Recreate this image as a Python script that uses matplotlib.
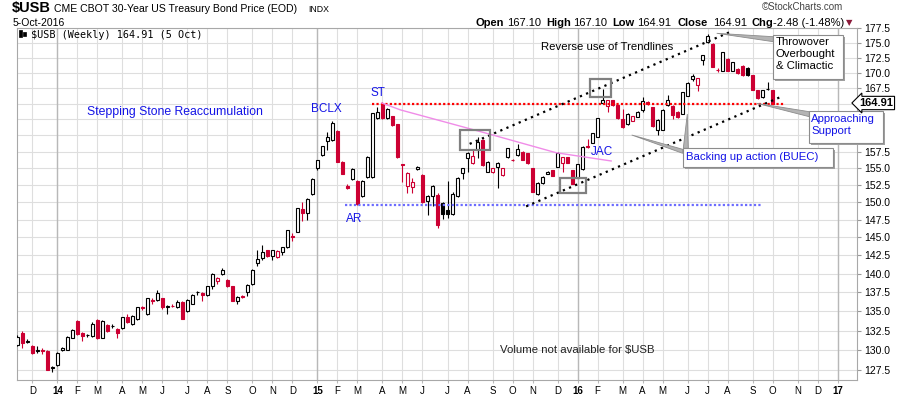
import numpy as np
import pandas as pd
import matplotlib
matplotlib.use('Agg')
import matplotlib.pyplot as plt
import matplotlib.dates as mdates
from matplotlib.patches import Rectangle, Polygon

plt.rcParams['font.family'] = ['Liberation Sans', 'DejaVu Sans']
plt.rcParams['text.parse_math'] = False

W, H = 900, 396
RED = '#cc0033'
BLUE = '#1414e6'

# weekly bars (Monday of each week), Nov 2013 .. 5 Oct 2016
dates = pd.date_range('2013-11-11', periods=152, freq='7D')

opens = [130.7, 132.2, 131.1, 130.6, 129.95, 130.0, 129.9, 127.85, 128.2, 130.05,
         130.1, 131.6, 133.8, 132.2, 131.9, 131.8, 133.9, 131.6, 133.2, 133.05,
         132.7, 132.8, 134.2, 133.4, 134.0, 135.5, 134.6, 136.45, 136.5, 136.7,
         135.6, 135.75, 135.5, 136.2, 135.0, 136.0, 137.5, 137.4, 137.1, 138.3,
         139.0, 139.9, 139.1, 138.3, 136.3, 136.95, 137.5, 138.6, 141.4, 142.2,
         143.2, 142.4, 142.3, 142.9, 143.6, 145.2, 145.8, 149.0, 148.5, 151.2,
         155.0, 157.0, 159.15, 159.25, 160.7, 156.0, 152.3, 153.45, 153.1, 150.85,
         153.75, 153.75, 162.7, 164.9, 162.7, 163.0, 161.7, 155.6, 152.4, 152.2,
         154.85, 154.05, 150.25, 150.85, 151.05, 149.9, 148.9, 148.3, 150.9, 154.3,
         156.5, 155.75, 157.75, 159.35, 154.5, 154.4, 155.15, 154.0, 156.65, 156.3,
         157.0, 157.5, 157.25, 155.0, 151.2, 152.8, 154.2, 154.76, 155.25, 155.75,
         156.65, 154.76, 153.6, 154.85, 158.4, 158.85, 159.75, 165.1, 164.6, 165.5,
         164.75, 162.5, 161.7, 162.3, 162.9, 164.0, 165.2, 164.4, 160.8, 160.9,
         164.8, 164.6, 163.7, 163.4, 166.25, 168.95, 167.95, 172.1, 175.1, 174.8,
         170.5, 170.35, 172.3, 170.3, 170.6, 171.1, 170.8, 169.6, 167.1, 166.0,
         167.3, 167.1]
highs = [131.9, 132.4, 131.4, 130.7, 130.5, 130.3, 130.0, 128.1, 129.8, 130.4,
         131.8, 132.7, 133.9, 132.3, 132.1, 133.6, 134.0, 133.9, 133.3, 133.4,
         132.8, 134.3, 134.6, 134.5, 135.6, 135.7, 136.8, 136.7, 137.8, 136.8,
         135.8, 135.9, 136.5, 136.3, 136.6, 137.3, 137.7, 137.5, 138.4, 140.1,
         139.5, 140.8, 139.3, 138.4, 137.0, 137.1, 138.6, 140.6, 143.2, 143.9,
         143.3, 143.3, 143.2, 143.7, 146.1, 145.6, 149.2, 150.0, 150.6, 153.5,
         156.3, 158.4, 160.5, 162.3, 160.8, 156.1, 152.6, 155.0, 153.2, 153.2,
         156.8, 163.5, 164.5, 165.3, 164.3, 163.1, 161.8, 155.7, 154.4, 153.6,
         155.4, 154.2, 151.0, 152.5, 151.3, 150.1, 153.1, 151.5, 153.7, 155.1,
         157.4, 157.7, 159.75, 159.4, 156.1, 155.1, 155.9, 155.1, 158.1, 156.4,
         158.75, 157.6, 157.3, 155.1, 152.9, 153.8, 154.6, 154.8, 157.4, 156.7,
         156.7, 154.8, 155.7, 158.3, 159.5, 160.4, 162.7, 167.4, 165.6, 165.6,
         164.8, 164.2, 163.5, 163.1, 163.8, 166.0, 165.4, 164.5, 162.5, 164.1,
         166.3, 164.7, 163.8, 166.9, 168.4, 169.8, 169.2, 173.0, 176.5, 174.9,
         170.7, 173.4, 172.4, 171.8, 170.7, 171.2, 170.9, 169.7, 167.2, 167.2,
         168.5, 167.1]
lows = [130.5, 130.3, 130.9, 129.5, 129.7, 129.6, 127.5, 127.3, 128.1, 129.9,
        130.0, 131.5, 131.9, 131.2, 131.7, 131.7, 131.4, 131.5, 132.3, 132.8,
        131.5, 132.7, 133.5, 133.2, 133.9, 135.2, 134.5, 135.9, 136.4, 135.3,
        134.7, 135.5, 135.4, 134.0, 134.9, 135.9, 137.1, 136.3, 137.0, 138.0,
        138.6, 139.8, 138.2, 136.3, 135.9, 136.7, 137.0, 138.5, 141.0, 141.8,
        142.3, 141.8, 142.2, 142.6, 143.5, 144.5, 145.7, 147.3, 147.4, 151.0,
        154.8, 156.9, 157.75, 159.2, 155.9, 154.1, 152.0, 153.3, 149.6, 150.7,
        153.6, 153.6, 162.5, 162.5, 162.6, 161.5, 156.6, 152.9, 151.4, 151.4,
        154.7, 149.9, 148.2, 149.5, 146.3, 147.6, 147.7, 148.2, 150.8, 153.35,
        154.5, 155.6, 156.5, 155.4, 154.4, 154.3, 152.1, 153.9, 156.5, 156.1,
        156.9, 156.2, 155.7, 151.5, 151.1, 152.7, 154.1, 153.8, 155.2, 154.5,
        155.8, 152.6, 153.5, 154.8, 158.1, 158.8, 159.7, 164.9, 163.7, 164.6,
        162.6, 161.2, 161.6, 162.2, 162.8, 163.7, 164.8, 161.3, 160.1, 160.8,
        164.6, 162.5, 162.7, 163.3, 166.2, 168.7, 167.0, 171.3, 175.0, 171.0,
        170.1, 170.3, 170.2, 170.2, 169.8, 169.5, 169.5, 167.2, 165.8, 165.9,
        167.1, 164.91]
closes = [131.7, 130.9, 131.2, 129.7, 130.0, 129.9, 127.5, 127.95, 129.7, 130.3,
          131.7, 132.6, 132.1, 131.8, 131.95, 133.4, 131.5, 133.8, 132.5, 133.1,
          132.2, 134.2, 133.6, 134.4, 135.5, 135.4, 136.75, 136.35, 137.4, 135.5,
          135.7, 135.65, 136.2, 134.0, 136.5, 137.2, 137.6, 137.1, 138.3, 140.0,
          139.4, 140.5, 138.3, 136.3, 136.9, 136.85, 138.5, 140.5, 142.05, 143.0,
          142.4, 143.2, 143.1, 143.6, 146.0, 145.1, 149.1, 148.4, 150.5, 153.4,
          156.25, 158.35, 159.75, 161.9, 156.0, 154.2, 152.15, 154.85, 149.8, 153.1,
          156.75, 163.45, 163.6, 162.7, 164.2, 161.6, 156.65, 155.45, 154.3, 152.9,
          155.25, 150.0, 150.85, 152.3, 146.8, 148.3, 148.35, 151.2, 153.6, 155.0,
          157.35, 156.9, 159.0, 155.5, 156.0, 155.0, 155.85, 155.0, 158.0, 156.2,
          157.85, 156.25, 155.75, 151.55, 152.8, 153.7, 154.5, 153.9, 157.35, 156.65,
          155.85, 152.65, 155.6, 158.25, 158.2, 160.35, 162.65, 165.6, 165.5, 164.75,
          162.65, 161.3, 163.4, 163.0, 163.7, 165.35, 165.0, 161.4, 162.4, 164.05,
          165.6, 163.2, 162.8, 166.85, 168.35, 169.4, 169.1, 172.85, 176.1, 171.0,
          170.4, 173.35, 170.3, 171.7, 169.9, 169.6, 169.65, 167.25, 165.9, 167.1,
          167.39, 164.91]

# drawn studies / annotations
resistance_level = 164.95
resistance_span = ['2015-03-22', '2016-10-20']
ar_level = 149.65
ar_span = ['2015-02-12', '2016-09-18']
upper_trend_dates = ['2015-08-06', '2016-08-06']
upper_trend_prices = [158.7, 176.9]
lower_trend_dates = ['2015-10-24', '2016-10-15']
lower_trend_prices = [149.4, 166.1]
pink_dates = ['2015-04-05', '2015-05-01', '2015-09-03', '2015-12-05', '2016-02-20']
pink_prices = [165.1, 164.0, 160.2, 157.35, 156.1]
box_starts = ['2015-07-24', '2015-12-11', '2016-01-21']
box_ends = ['2015-09-04', '2016-01-16', '2016-02-20']
box_lows = [157.7, 151.4, 166.0]
box_highs = [160.8, 153.5, 168.9]
hidden_ylabels = [160.0, 162.5, 165.0]   # covered by the price tag / callout


def px(x, y):
    return x / W, 1 - y / H


def d2n(d):
    return mdates.date2num(pd.Timestamp(d))


fig = plt.figure(figsize=(W / 100, H / 100), dpi=100)
ax = fig.add_axes([17 / W, 1 - 380 / H, 840 / W, 352 / H])
ax.set_yscale('log')

# candles
x = mdates.date2num(dates)
o, h, l, c = (np.array(v) for v in (opens, highs, lows, closes))
prev = np.r_[c[0], c[:-1]]
cols = np.where(c < prev, RED, 'black')
ax.vlines(x, l, h, colors=cols, lw=0.8, zorder=3)
bw = 4.6
for xi, oi, ci, col in zip(x, o, c, cols):
    lo, hi = min(oi, ci), max(oi, ci)
    ax.add_patch(Rectangle((xi - bw / 2, lo), bw, max(hi - lo, 0.02),
                           facecolor=col if ci < oi else 'white',
                           edgecolor=col, lw=0.8, zorder=4))

# study lines
ax.plot(pd.to_datetime(resistance_span), [resistance_level] * 2, color='#ff0000',
        ls=(0, (1, 1)), lw=1.6, zorder=5)
ax.plot(pd.to_datetime(ar_span), [ar_level] * 2, color='#6b6bff',
        ls=(0, (1, 1)), lw=1.6, zorder=5)
ax.plot(pd.to_datetime(upper_trend_dates), upper_trend_prices, color='black',
        ls=(0, (1, 2)), lw=1.6, zorder=5)
ax.plot(pd.to_datetime(lower_trend_dates), lower_trend_prices, color='black',
        ls=(0, (1, 2)), lw=1.6, zorder=5)
ax.plot(pd.to_datetime(pink_dates), pink_prices, color='#f08ce8', lw=1.0, zorder=5)
for d0, d1, p0, p1 in zip(box_starts, box_ends, box_lows, box_highs):
    ax.add_patch(Rectangle((d2n(d0), p0), d2n(d1) - d2n(d0), p1 - p0, fill=False,
                           ec='#808080', lw=1.6, zorder=6))

# axes
ax.set_xlim(d2n('2013-11-10 14:00'), d2n('2017-01-29'))
ax.set_ylim(126.33, 177.2)
yt = np.arange(127.5, 177.6, 2.5)
ax.set_yticks(yt)
ax.set_yticklabels(['' if any(abs(v - hv) < 0.01 for hv in hidden_ylabels) else f'{v:.1f}'
                    for v in yt])
ax.yaxis.set_minor_locator(matplotlib.ticker.NullLocator())
ax.yaxis.tick_right()

month_starts = pd.date_range('2013-12-01', '2017-01-01', freq='MS')
tick_dates = [m + pd.Timedelta(days=(7 - m.weekday()) % 7) for m in month_starts]
tick_labels = [f'{m.year % 100}' if m.month == 1 else m.strftime('%b')[0] for m in month_starts]
ax.set_xticks(mdates.date2num(tick_dates))
ax.set_xticklabels(tick_labels)
ax.xaxis.set_minor_locator(matplotlib.ticker.NullLocator())
for lab, m in zip(ax.get_xticklabels(), month_starts):
    if m.month == 1:
        lab.set_fontweight('bold')
        lab.set_fontsize(8)

ax.tick_params(axis='y', labelsize=7.5, length=3, pad=2, colors='#999999', labelcolor='black')
ax.tick_params(axis='x', labelsize=7, length=2, pad=2, colors='#bbbbbb', labelcolor='black')
ax.grid(True, color='#dedede', lw=0.8)
ax.set_axisbelow(True)
for m, d in zip(month_starts, tick_dates):
    if m.month == 1:
        ax.axvline(d, color='#b8b8b8', lw=1.0, zorder=0.6)
for s in ax.spines.values():
    s.set_color('#a8a8a8')

# header
fig.text(*px(12, 8), '$USB', fontsize=10.5, fontweight='bold', va='center')
fig.text(*px(54, 8.5), 'CME CBOT 30-Year US Treasury Bond Price (EOD)', fontsize=7.6, va='center')
fig.text(*px(308, 9), 'INDX', fontsize=6.3, va='center')
fig.text(*px(13, 23), '5-Oct-2016', fontsize=7.5, va='center')
fig.text(*px(843, 7), '\u00a9StockCharts.com', fontsize=7, va='center', ha='right', color='#444444')
hdr = [(475, 'Open', True), (506.7, '167.10', False), (546, 'High', True),
       (573.3, '167.10', False), (612.3, 'Low', True), (636.7, '164.91', False),
       (677.7, 'Close', True), (713.3, '164.91', False), (751.7, 'Chg', True),
       (772.7, '-2.48 (-1.48%)', False)]
for hx, txt, bold in hdr:
    fig.text(*px(hx, 23), txt, fontsize=8, va='center',
             fontweight='bold' if bold else 'normal')
fig.text(*px(846, 23), '\u25bc', fontsize=6, va='center', color='#8b1a3a',
         family='DejaVu Sans')

# legend row
for ix, (t, b) in enumerate([(30, 37), (31.5, 36)]):
    fig.add_artist(Rectangle(px(19 + 4 * ix, b), 2.5 / W, (b - t) / H,
                             transform=fig.transFigure, fc='black', ec='black', lw=0.5))
fig.text(*px(31, 34.5), '$USB (Weekly) 164.91 (5 Oct)', family='DejaVu Sans Mono',
         fontsize=7.3, va='center')

# chart labels
fig.text(*px(86.7, 111.7), 'Stepping Stone Reaccumulation', color=BLUE, fontsize=8.8, va='center')
fig.text(*px(310.7, 109), 'BCLX', color=BLUE, fontsize=8.5, va='center')
fig.text(*px(370.7, 92.5), 'ST', color=BLUE, fontsize=8.5, va='center')
fig.text(*px(346, 219), 'AR', color=BLUE, fontsize=8.5, va='center')
fig.text(*px(591, 152), 'JAC', color=BLUE, fontsize=8.5, va='center')
fig.text(*px(541, 47.3), 'Reverse use of Trendlines', fontsize=8.2, va='center')
fig.text(*px(500, 350), 'Volume not available for $USB', fontsize=8.2, va='center', color='#222222')


def callout(x0, y0, x1, y1, text, color, tx, ty, pointers):
    for tri in pointers:
        fig.add_artist(Polygon([px(*p) for p in tri], closed=True, transform=fig.transFigure,
                               fc='#b4b4b4', ec='#8c8c8c', lw=0.6, zorder=5))
    fig.add_artist(Rectangle(px(x0 + 2, y1 + 2), (x1 - x0) / W, (y1 - y0) / H,
                             transform=fig.transFigure, fc='#a0a0a0', ec='none', zorder=6))
    fig.add_artist(Rectangle(px(x0, y1), (x1 - x0) / W, (y1 - y0) / H,
                             transform=fig.transFigure, fc='white', ec='#8c8c8c', lw=0.8, zorder=7))
    fig.text(*px(tx, ty), text, color=color, fontsize=8.2, va='top', ha='left',
             linespacing=1.25, zorder=8)


callout(773.3, 35, 843.3, 79.3, 'Throwover\nOverbought\n& Climactic', 'black', 776, 37,
        [[(773.3, 36.7), (773.3, 41.7), (716.7, 33.3)]])
callout(809.3, 110.7, 882.7, 142.7, 'Approaching\nSupport', BLUE, 811, 114.5,
        [[(809.3, 111.7), (809.3, 116.7), (756.7, 103.3)]])
callout(682.7, 148.3, 832.7, 166.7, 'Backing up action (BUEC)', BLUE, 686, 152,
        [[(682.7, 149.3), (682.7, 153.3), (631.7, 135)],
         [(683.3, 148.3), (688.3, 148.3), (687.3, 114)]])

# last price tag
fig.text(*px(859, 103), '164.91', fontsize=8, fontweight='bold', va='center', ha='left',
         bbox=dict(boxstyle='larrow,pad=0.15', fc='white', ec='black', lw=0.8), zorder=8)

fig.savefig('out.png', dpi=100)
